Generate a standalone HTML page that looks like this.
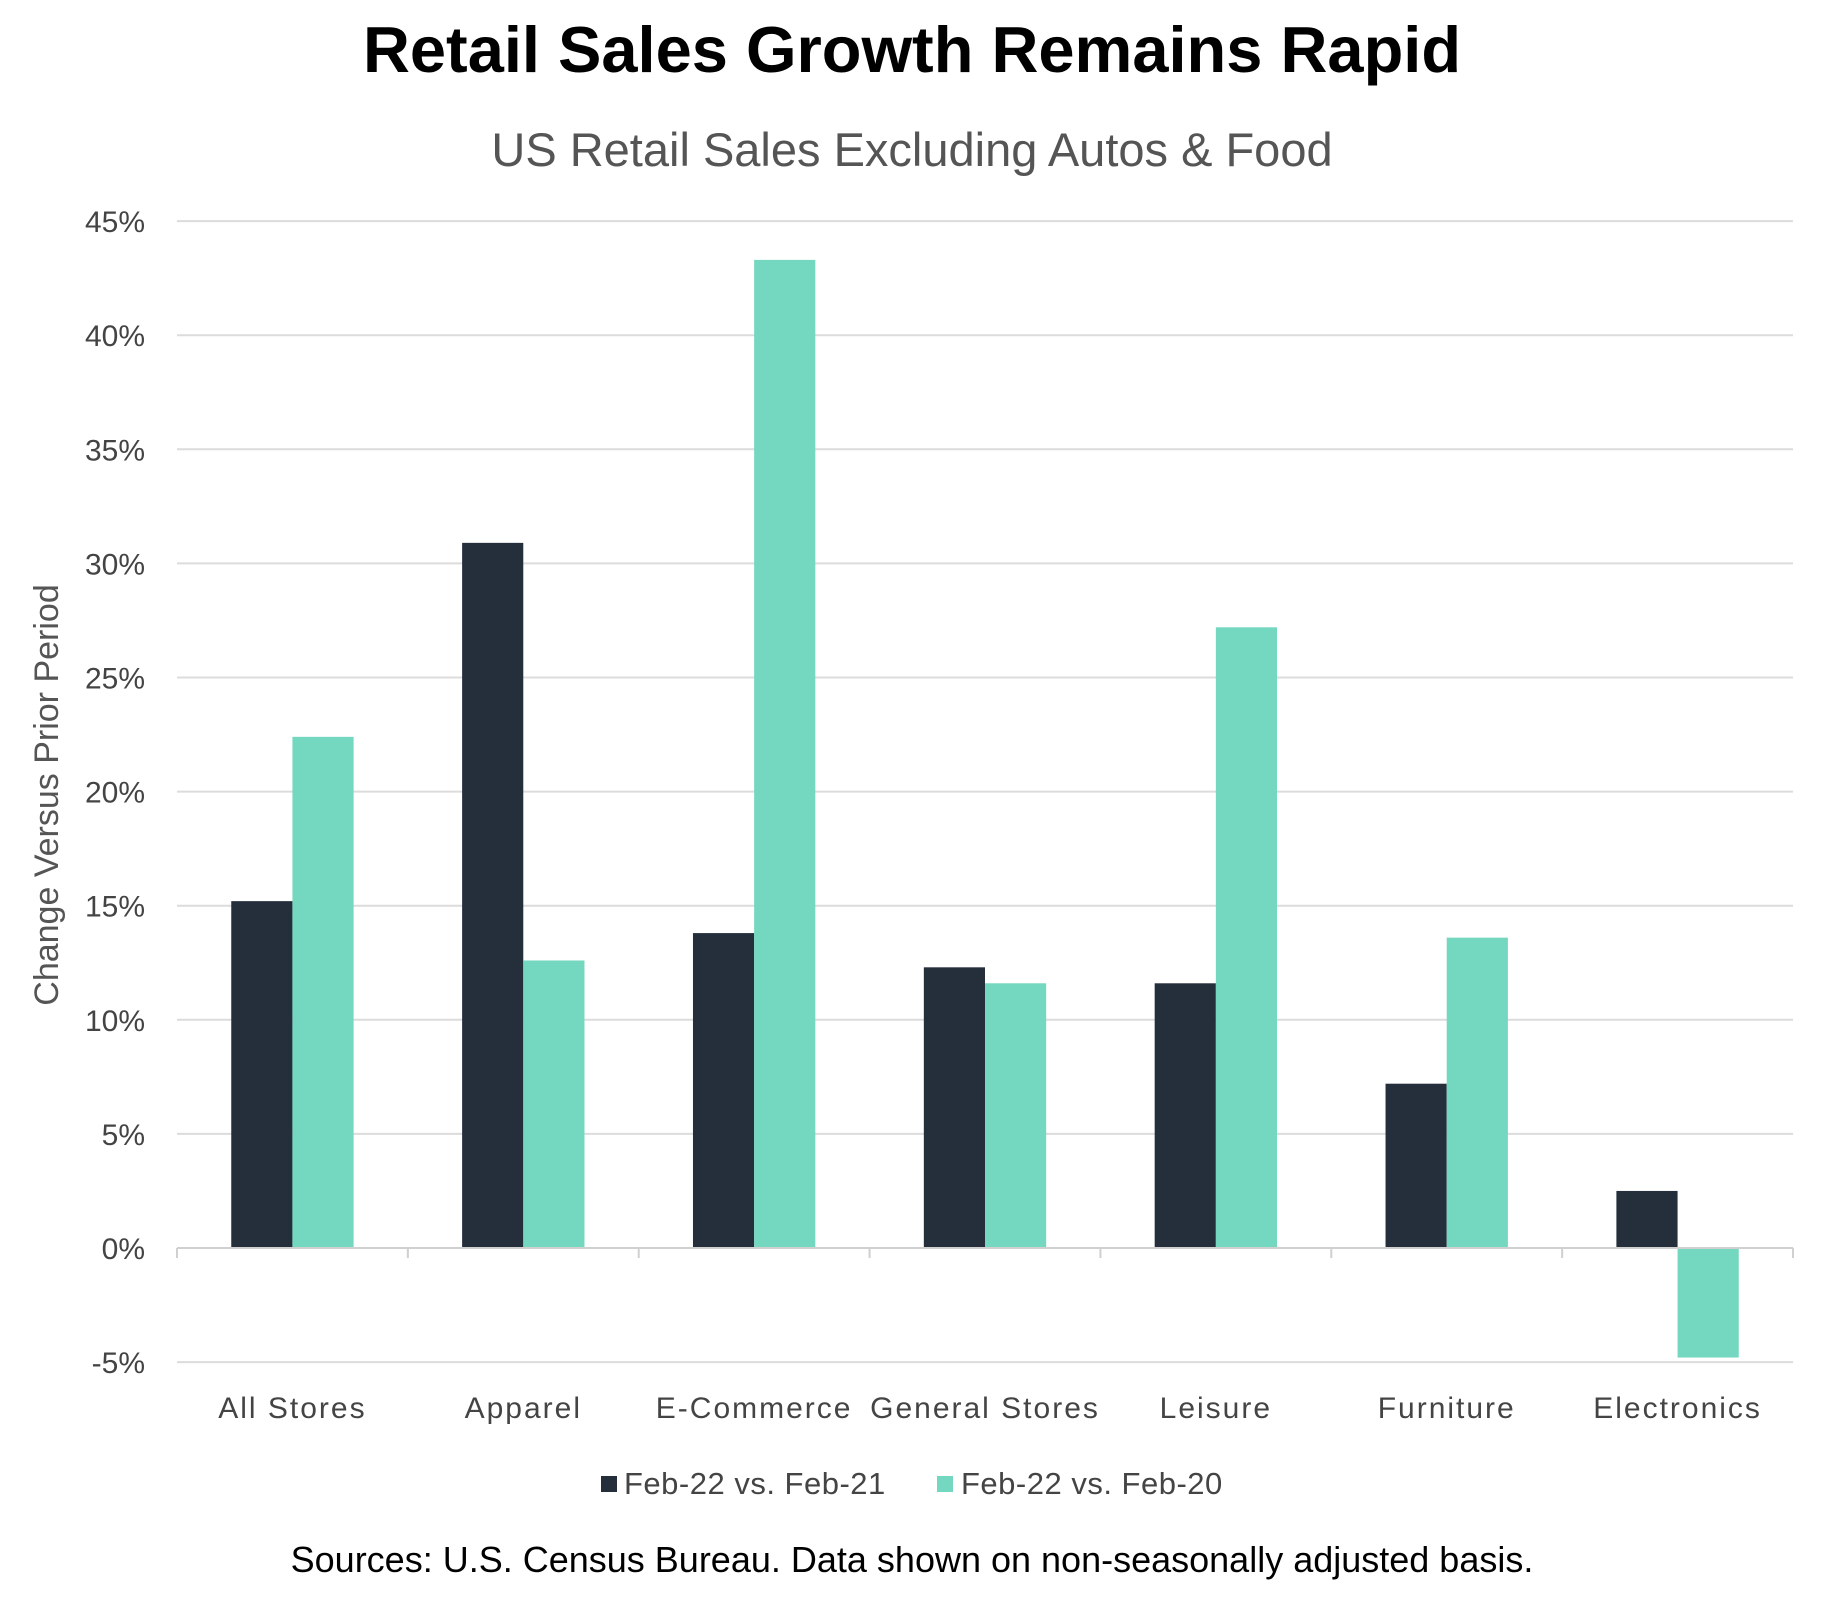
<!DOCTYPE html>
<html><head><meta charset="utf-8">
<style>
html,body{margin:0;padding:0;background:#fff;}
body{width:1845px;height:1594px;overflow:hidden;font-family:"Liberation Sans",sans-serif;}
</style></head>
<body>
<svg id="chart" width="1845" height="1594" viewBox="0 0 1845 1594" xmlns="http://www.w3.org/2000/svg" font-family="Liberation Sans, sans-serif">
<text x="912" y="72" text-anchor="middle" font-size="65" font-weight="bold" fill="#000">Retail Sales Growth Remains Rapid</text>
<text x="912" y="166" text-anchor="middle" font-size="47" fill="#555">US Retail Sales Excluding Autos &amp; Food</text>
<text transform="translate(58,795) rotate(-90)" text-anchor="middle" font-size="34" fill="#555">Change Versus Prior Period</text>
<g id="grid"></g><g id="bars"></g><g id="xaxis"></g>
<g>
<rect x="601" y="1476" width="16" height="16" fill="#252f3c"/>
<text x="624" y="1494" font-size="31" letter-spacing="0.5" fill="#444">Feb-22 vs. Feb-21</text>
<rect x="937" y="1476" width="16" height="16" fill="#74d7bf"/>
<text x="961" y="1494" font-size="31" letter-spacing="0.5" fill="#444">Feb-22 vs. Feb-20</text>
</g>
<text x="912" y="1572" text-anchor="middle" font-size="36" fill="#000">Sources: U.S. Census Bureau. Data shown on non-seasonally adjusted basis.</text>
</svg>
<script>
const categories = ["All Stores","Apparel","E-Commerce","General Stores","Leisure","Furniture","Electronics"];
const seriesFeb21 = [15.2,30.9,13.8,12.3,11.6,7.2,2.5];
const seriesFeb20 = [22.4,12.6,43.3,11.6,27.2,13.6,-4.8];
const yTicks = [-5,0,5,10,15,20,25,30,35,40,45];
const yTickLabels = ["-5%","0%","5%","10%","15%","20%","25%","30%","35%","40%","45%"];

const NS="http://www.w3.org/2000/svg";
const L=177,R=1793,Y0=1248,PER=114.1/5;
function y(v){return Y0-v*PER;}
const cw=(R-L)/categories.length;
function xc(i){return L+cw*(i+0.5);}
function mk(t,a,p){const e=document.createElementNS(NS,t);for(const k in a)e.setAttribute(k,a[k]);p.appendChild(e);return e;}
const grid=document.getElementById('grid'),bars=document.getElementById('bars'),xa=document.getElementById('xaxis');
yTicks.forEach((v,i)=>{
  if(v!==0){const g=mk('line',{x1:L,x2:R,y1:y(v),y2:y(v),stroke:'#dcdcdc','stroke-width':2},grid);
  
  }
  const t=mk('text',{x:145,y:y(v)+11,'text-anchor':'end','font-size':30,fill:'#444'},grid);
  t.textContent=yTickLabels[i];
  
  
});
const bw=cw*0.265;
categories.forEach((c,i)=>{
  const v1=seriesFeb21[i],v2=seriesFeb20[i];
  const b1=mk('rect',{x:xc(i)-bw,y:Math.min(y(v1),Y0),width:bw,height:Math.abs(y(v1)-Y0),fill:'#252f3c'},bars);
  
  
  const b2=mk('rect',{x:xc(i),y:Math.min(y(v2),Y0),width:bw,height:Math.abs(y(v2)-Y0),fill:'#74d7bf'},bars);
  
  
  const t=mk('text',{x:xc(i),y:1418,'text-anchor':'middle','font-size':30,'letter-spacing':2,fill:'#444'},xa);
  t.textContent=c;
  
  
});
const ax=mk('line',{x1:L,x2:R,y1:Y0,y2:Y0,stroke:'#d0d0d0','stroke-width':2},xa);


for(let i=0;i<=categories.length;i++){
  const tk=mk('line',{x1:L+cw*i,x2:L+cw*i,y1:Y0,y2:Y0+10,stroke:'#d0d0d0','stroke-width':2},xa);
  
  
}
</script>
</body></html>
